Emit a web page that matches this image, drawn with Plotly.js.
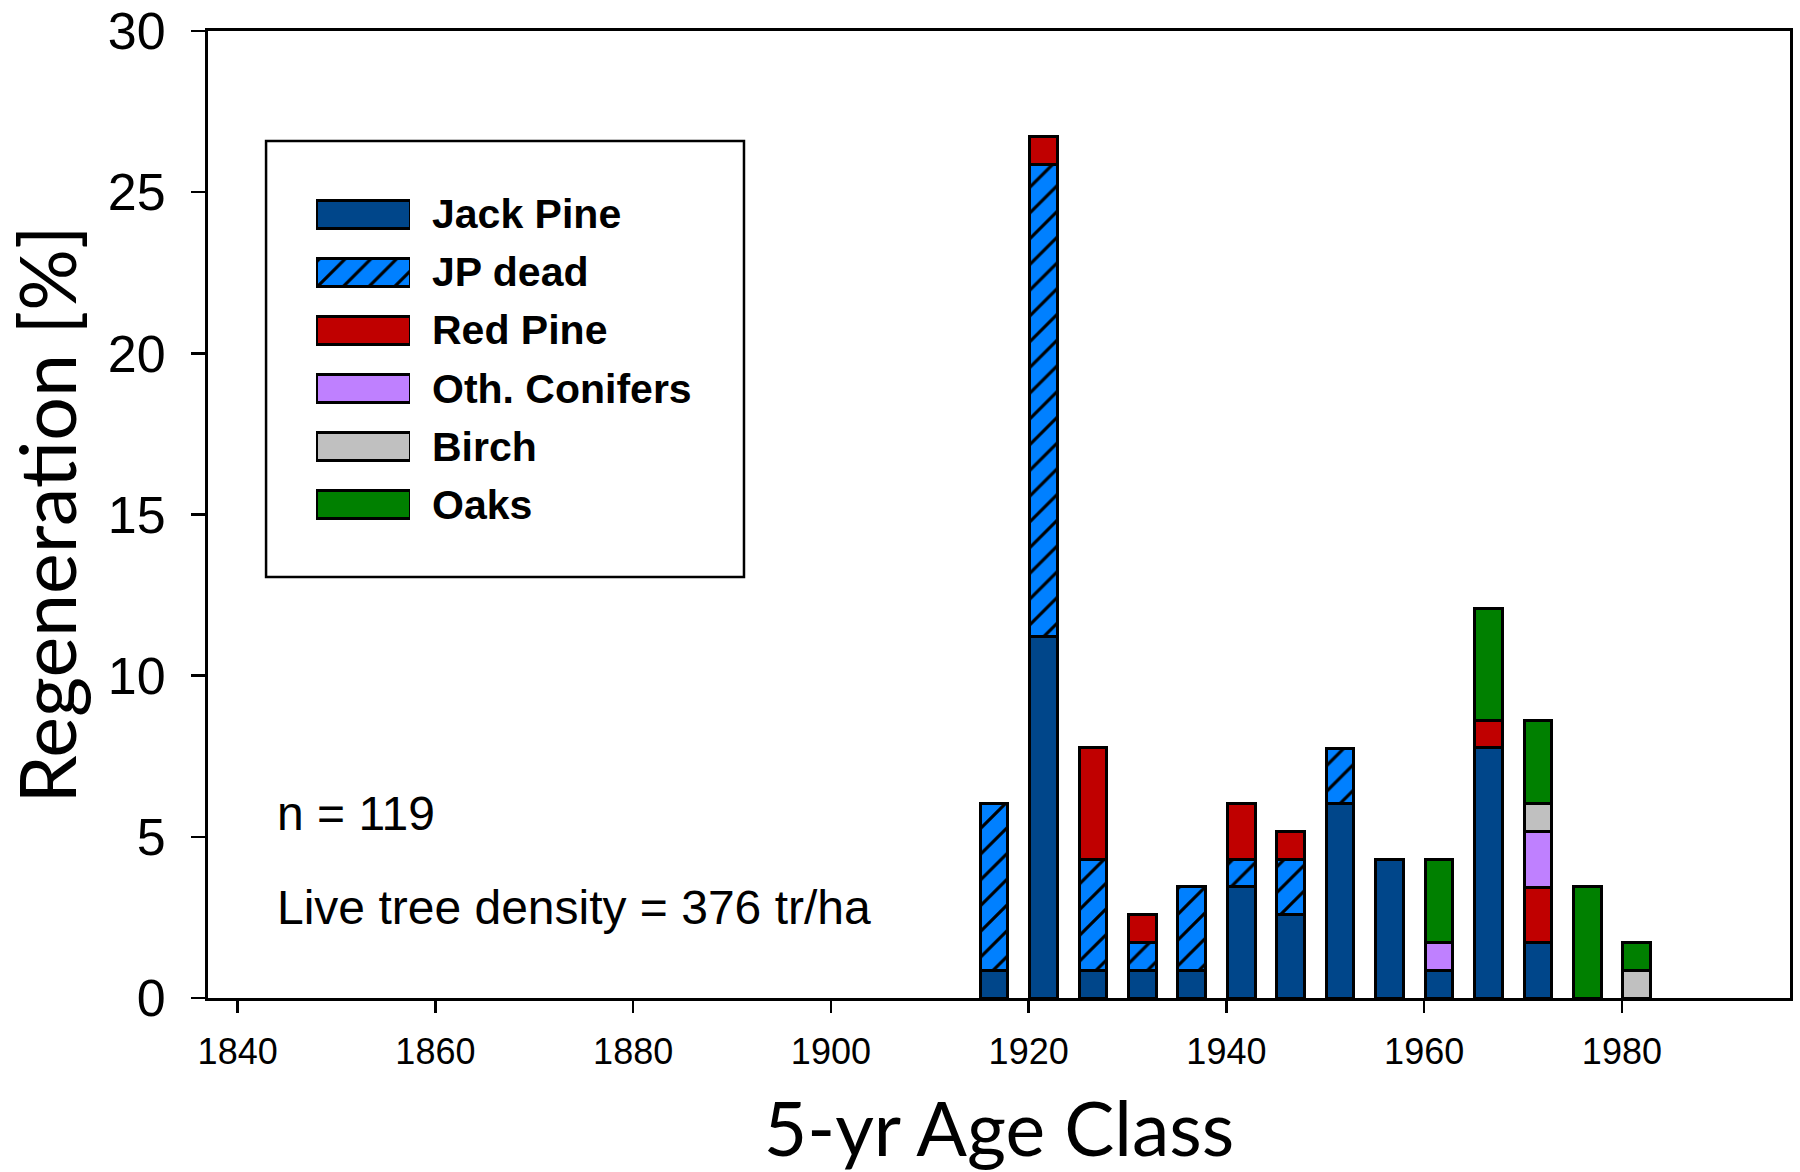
<!DOCTYPE html>
<html>
<head>
<meta charset="utf-8">
<script src="https://cdn.plot.ly/plotly-3.0.1.min.js"></script>
<style>
html, body { margin: 0; padding: 0; background: #ffffff; }
#chart { width: 1800px; height: 1172px; }
</style>
</head>
<body>
<div id="chart"></div>
<script>
// ---- data ----
const ageClass = [1916.5, 1921.5, 1926.5, 1931.5, 1936.5, 1941.5, 1946.5, 1951.5, 1956.5, 1961.5, 1966.5, 1971.5, 1976.5, 1981.5];
const jackPine    = [0.86, 11.21, 0.86, 0.86, 0.86, 3.45, 2.59, 6.03, 4.31, 0.86, 7.76, 1.72, null, null];
const jpDead      = [5.17, 14.66, 3.45, 0.86, 2.59, 0.86, 1.72, 1.72, null, null, null, null, null, null];
const redPine     = [null, 0.86, 3.45, 0.86, null, 1.72, 0.86, null, null, null, 0.86, 1.72, null, null];
const othConifers = [null, null, null, null, null, null, null, null, null, 0.86, null, 1.72, null, null];
const birch       = [null, null, null, null, null, null, null, null, null, null, null, 0.86, null, 0.86];
const oaks        = [null, null, null, null, null, null, null, null, null, 2.59, 3.45, 2.59, 3.45, 0.86];

const seriesNames  = ['Jack Pine', 'JP dead', 'Red Pine', 'Oth. Conifers', 'Birch', 'Oaks'];
const seriesValues = [jackPine, jpDead, redPine, othConifers, birch, oaks];
const seriesColors = ['#00468A', '#0080FF', '#C00000', '#BF80FF', '#C0C0C0', '#008000'];
const seriesHatch  = ['', '/', '', '', '', ''];

const xTickVals = [1840, 1860, 1880, 1900, 1920, 1940, 1960, 1980];
const yTickVals = [0, 5, 10, 15, 20, 25, 30];
const noteLines = ['n = 119', 'Live tree density = 376 tr/ha'];

const xTitle = '5-yr Age Class';
const yTitle = 'Regeneration [%]';

// ---- styles ----
const ARIAL = 'Arial, "Liberation Sans", sans-serif';
const TITLEFONT = 'Lato, "Open Sans", sans-serif';

function markerFor(i) {
  const m = { color: seriesColors[i], line: { color: '#000000', width: 3 } };
  if (seriesHatch[i]) {
    m.pattern = { shape: seriesHatch[i], fillmode: 'overlay', bgcolor: seriesColors[i],
                  fgcolor: '#000000', fgopacity: 1, size: 18.2, solidity: 0.17 };
  }
  return m;
}

const traces = seriesNames.map((name, i) => ({
  type: 'bar', name: name, x: ageClass, y: seriesValues[i], width: 2.8,
  marker: markerFor(i), showlegend: false, hoverinfo: 'skip'
}));

// legend swatches: one single-bar trace per series on an auxiliary axis pair
seriesNames.forEach((name, i) => {
  traces.push({
    type: 'bar', orientation: 'h', xaxis: 'x2', yaxis: 'y2',
    x: [1], y: [name], width: 0.48, base: 0,
    marker: markerFor(i), showlegend: false, hoverinfo: 'skip'
  });
});

const annotations = seriesNames.map(name => ({
  xref: 'x2', yref: 'y2', x: 1, y: name, xanchor: 'left', yanchor: 'middle', xshift: 20,
  text: '<b>' + name + '</b>', showarrow: false,
  font: { family: ARIAL, size: 41, color: '#000000' }
}));
annotations.push(
  { xref: 'paper', yref: 'paper', x: 0.0421, y: 0.191, xanchor: 'left', yanchor: 'middle',
    text: noteLines[0], showarrow: false, font: { family: ARIAL, size: 48, color: '#000000' } },
  { xref: 'paper', yref: 'paper', x: 0.0421, y: 0.094, xanchor: 'left', yanchor: 'middle',
    text: noteLines[1], showarrow: false, font: { family: ARIAL, size: 48, color: '#000000' } }
);

const layout = {
  width: 1800, height: 1172,
  margin: { l: 208, r: 10, t: 31, b: 174, pad: 0 },
  paper_bgcolor: '#ffffff', plot_bgcolor: '#ffffff',
  barmode: 'stack',
  hovermode: false,
  font: { family: ARIAL, color: '#000000' },
  xaxis: {
    range: [1837, 1997], tickmode: 'array', tickvals: xTickVals,
    ticks: 'outside', ticklen: 12, tickwidth: 2.5, tickcolor: '#000000',
    showline: true, linewidth: 3, linecolor: '#000000', mirror: true,
    showgrid: false, zeroline: false,
    tickfont: { family: ARIAL, size: 36, color: '#000000' },
    ticklabelstandoff: 8,
    title: { text: xTitle, font: { family: TITLEFONT, size: 75, color: '#000000' }, standoff: 35 }
  },
  yaxis: {
    range: [0, 30], tickmode: 'array', tickvals: yTickVals,
    ticks: 'outside', ticklen: 14, tickwidth: 2.5, tickcolor: '#000000',
    showline: true, linewidth: 3, linecolor: '#000000', mirror: true,
    showgrid: false, zeroline: false,
    tickfont: { family: ARIAL, size: 52, color: '#000000' },
    ticklabelstandoff: 15,
    title: { text: yTitle, font: { family: TITLEFONT, size: 77, color: '#000000' }, standoff: 20 }
  },
  xaxis2: { domain: [0.0683, 0.1277], range: [0, 1], anchor: 'y2', visible: false, fixedrange: true },
  yaxis2: { domain: [0.4798, 0.8407], range: [5.5, -0.5], anchor: 'x2', visible: false,
            type: 'category', categoryorder: 'array', categoryarray: seriesNames, fixedrange: true },
  shapes: [{
    type: 'rect', xref: 'paper', yref: 'paper',
    x0: 0.0367, x1: 0.3388, y0: 0.4354, y1: 0.8862,
    line: { color: '#000000', width: 2.5 }, fillcolor: 'rgba(0,0,0,0)'
  }],
  annotations: annotations
};

Plotly.newPlot('chart', traces, layout, { displayModeBar: false, staticPlot: true });
</script>
</body>
</html>
